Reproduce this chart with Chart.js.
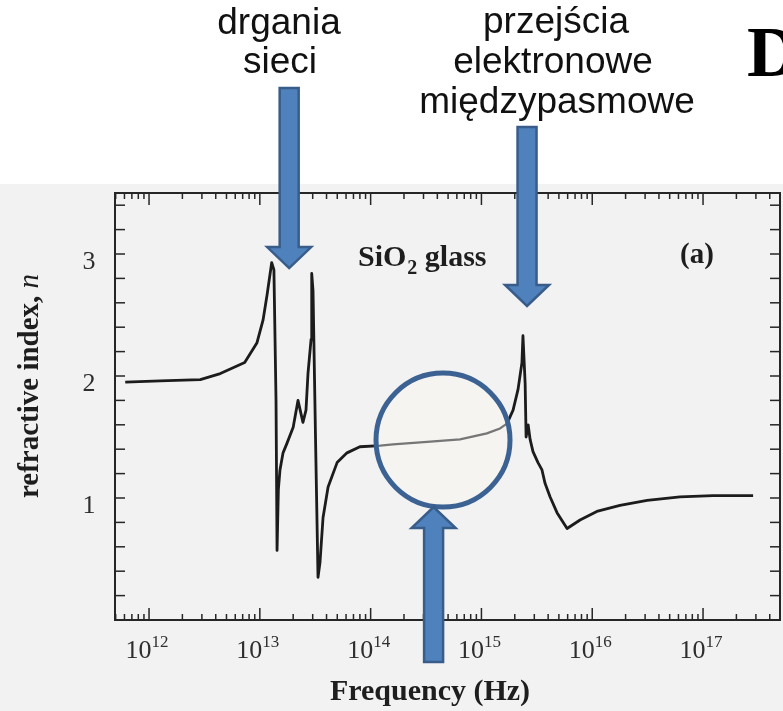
<!DOCTYPE html>
<html lang="pl">
<head>
<meta charset="UTF-8">
<title>Refractive index of SiO2 glass</title>
<script src="https://cdn.jsdelivr.net/npm/chart.js"></script>
<style>
  body { margin: 0; background: #fff; }
</style>
</head>
<body>
<canvas id="nChart" width="783" height="711"></canvas>
<script>
// refractive index of SiO2 glass vs frequency
const freqHz = [
  6.1e11, 1.26e12, 2.9e12, 4.4e12, 7.3e12, 9.4e12, 1.07e13, 1.16e13, 1.28e13, 1.34e13,
  1.40e13, 1.43e13, 1.47e13, 1.52e13, 1.62e13, 1.76e13, 2.0e13, 2.21e13, 2.45e13, 2.61e13,
  2.72e13, 2.90e13, 2.94e13, 3.02e13, 3.18e13, 3.35e13, 3.49e13, 3.72e13, 4.13e13, 4.98e13,
  6.12e13, 8.0e13, 1.22e14, 1.59e14, 3.23e14, 6.41e14, 1.12e15, 1.47e15, 1.70e15, 1.93e15,
  2.14e15, 2.32e15, 2.37e15, 2.48e15, 2.53e15, 2.64e15, 2.75e15, 2.92e15, 3.24e15, 3.52e15,
  3.75e15, 4.16e15, 4.81e15, 5.93e15, 7.76e15, 1.10e16, 1.78e16, 3.13e16, 6.19e16, 1.23e17,
  2.83e17
];
const refIndex = [
  1.95, 1.96, 1.97, 2.02, 2.11, 2.27, 2.46, 2.66, 2.93, 2.87,
  1.80, 0.57, 1.07, 1.23, 1.37, 1.45, 1.58, 1.80, 1.62, 1.72,
  2.02, 2.30, 2.84, 2.70, 1.50, 0.35, 0.47, 0.84, 1.09, 1.29,
  1.37, 1.42, 1.43, 1.44, 1.46, 1.48, 1.53, 1.57, 1.61, 1.72,
  1.89, 2.11, 2.33, 1.94, 1.50, 1.60, 1.48, 1.38, 1.29, 1.23,
  1.12, 1.01, 0.88, 0.75, 0.82, 0.89, 0.94, 0.98, 1.01, 1.02,
  1.02
];

// axes
const xMin = 4.93e11, xMax = 4.95e17;
const yMin = 0, yMax = 3.5;
const decadeLabels = [12, 13, 14, 15, 16, 17];
const yLabels = [1, 2, 3];

// arrows as [frequency, tail n, tip n]
const arrows = [
  [1.84e13, 4.36, 2.885],
  [2.58e15, 4.04, 2.574],
  [3.70e14, -0.344, 0.926]
];
// circled region of the curve
const lens = { f: 4.5e14, n: 1.475 };

const serif = '"Liberation Serif", "Times New Roman", serif';
const sans = '"Liberation Sans", Arial, sans-serif';

function line(ctx, x1, y1, x2, y2) {
  ctx.beginPath();
  ctx.moveTo(x1, y1);
  ctx.lineTo(x2, y2);
  ctx.stroke();
}

const paper = {
  id: 'paper',
  beforeDraw(chart) {
    const { ctx, width, height } = chart;
    ctx.save();
    ctx.fillStyle = '#ffffff';
    ctx.fillRect(0, 0, width, height);
    ctx.fillStyle = '#f2f2f2';
    ctx.fillRect(0, 184, width, height - 184);
    ctx.restore();
  }
};

const magnifier = {
  id: 'magnifier',
  afterDatasetsDraw(chart) {
    const { ctx } = chart;
    const cx = chart.scales.x.getPixelForValue(lens.f);
    const cy = chart.scales.y.getPixelForValue(lens.n);
    const r = 67;
    ctx.save();
    ctx.beginPath();
    ctx.arc(cx, cy, r, 0, Math.PI * 2);
    ctx.fillStyle = '#f5f4f0';
    ctx.fill();
    ctx.clip();
    // the same curve, fainter inside the circle
    const pts = chart.getDatasetMeta(0).data;
    ctx.beginPath();
    pts.forEach((p, i) => (i ? ctx.lineTo(p.x, p.y) : ctx.moveTo(p.x, p.y)));
    ctx.strokeStyle = '#767676';
    ctx.lineWidth = 2.2;
    ctx.stroke();
    ctx.restore();

    ctx.save();
    ctx.beginPath();
    ctx.arc(cx, cy, r, 0, Math.PI * 2);
    ctx.strokeStyle = '#3b6292';
    ctx.lineWidth = 5;
    ctx.stroke();
    ctx.restore();
  }
};

const frame = {
  id: 'frame',
  afterDraw(chart) {
    const { ctx, chartArea: a } = chart;
    const xs = chart.scales.x, ys = chart.scales.y;
    ctx.save();
    ctx.strokeStyle = '#262626';
    ctx.lineWidth = 2;
    ctx.strokeRect(a.left, a.top, a.right - a.left, a.bottom - a.top);

    // log ticks on bottom and top, pointing inwards
    ctx.lineWidth = 1.5;
    for (let d = 11; d <= 17; d++) {
      for (let k = 1; k <= 9; k++) {
        const v = k * Math.pow(10, d);
        if (v <= xMin || v >= xMax) continue;
        const px = xs.getPixelForValue(v);
        const len = k === 1 ? 12 : 6;
        line(ctx, px, a.bottom, px, a.bottom - len);
        line(ctx, px, a.top, px, a.top + len);
      }
    }
    // y ticks every 0.2 on both sides
    for (let i = 1; i * 0.2 < yMax; i++) {
      const py = ys.getPixelForValue(i * 0.2);
      line(ctx, a.left, py, a.left + 10, py);
      line(ctx, a.right, py, a.right - 10, py);
    }

    // tick labels
    ctx.fillStyle = '#2e2e2e';
    ctx.textBaseline = 'alphabetic';
    ctx.textAlign = 'left';
    decadeLabels.forEach(d => {
      const px = xs.getPixelForValue(Math.pow(10, d));
      ctx.font = '26px ' + serif;
      const wBase = ctx.measureText('10').width;
      ctx.font = '17px ' + serif;
      const wExp = ctx.measureText(String(d)).width;
      const x0 = px - (wBase + wExp) / 2 - 2;
      ctx.font = '26px ' + serif;
      ctx.fillText('10', x0, 658);
      ctx.font = '17px ' + serif;
      ctx.fillText(String(d), x0 + wBase, 647);
    });
    ctx.textAlign = 'center';
    ctx.font = '26px ' + serif;
    yLabels.forEach(v => {
      ctx.fillText(String(v), 89, ys.getPixelForValue(v) + 15);
    });

    // axis titles
    ctx.fillStyle = '#1e1e1e';
    ctx.font = 'bold 30px ' + serif;
    ctx.fillText('Frequency (Hz)', 430, 700);

    ctx.save();
    ctx.translate(38, 386);
    ctx.rotate(-Math.PI / 2);
    ctx.font = 'bold 29px ' + serif;
    const t1 = 'refractive index, ';
    const w1 = ctx.measureText(t1).width;
    ctx.font = 'italic 29px ' + serif;
    const w2 = ctx.measureText('n').width;
    ctx.textAlign = 'left';
    ctx.font = 'bold 29px ' + serif;
    ctx.fillText(t1, -(w1 + w2) / 2, 0);
    ctx.font = 'italic 29px ' + serif;
    ctx.fillText('n', -(w1 + w2) / 2 + w1, 0);
    ctx.restore();

    // in-plot labels
    ctx.textAlign = 'left';
    ctx.font = 'bold 30px ' + serif;
    ctx.fillText('SiO', 358, 266);
    let x = 358 + ctx.measureText('SiO').width;
    ctx.font = 'bold 20px ' + serif;
    ctx.fillText('2', x + 1, 274);
    x += ctx.measureText('2').width + 1;
    ctx.font = 'bold 30px ' + serif;
    ctx.fillText(' glass', x, 266);
    ctx.textAlign = 'center';
    ctx.font = 'bold 29px ' + serif;
    ctx.fillText('(a)', 697, 263);
    ctx.restore();
  }
};

const notes = {
  id: 'notes',
  afterDraw(chart) {
    const { ctx } = chart;
    const xs = chart.scales.x, ys = chart.scales.y;
    ctx.save();
    // block arrows
    arrows.forEach(([f, nTail, nTip]) => {
      const x = xs.getPixelForValue(f);
      const yTail = ys.getPixelForValue(nTail);
      const yTip = ys.getPixelForValue(nTip);
      const dir = yTip > yTail ? 1 : -1;
      const yBase = yTip - dir * 21;
      ctx.beginPath();
      ctx.moveTo(x - 9.5, yTail);
      ctx.lineTo(x - 9.5, yBase);
      ctx.lineTo(x - 22, yBase);
      ctx.lineTo(x, yTip);
      ctx.lineTo(x + 22, yBase);
      ctx.lineTo(x + 9.5, yBase);
      ctx.lineTo(x + 9.5, yTail);
      ctx.closePath();
      ctx.fillStyle = '#4f81bd';
      ctx.fill();
      ctx.strokeStyle = '#385d8a';
      ctx.lineWidth = 2.5;
      ctx.stroke();
    });

    // captions over the arrows
    ctx.fillStyle = '#111';
    ctx.textAlign = 'center';
    ctx.textBaseline = 'alphabetic';
    ctx.font = '37px ' + sans;
    ctx.fillText('drgania', 279, 34);
    ctx.fillText('sieci', 280, 73);
    ctx.fillText('przejścia', 556, 33);
    ctx.fillText('elektronowe', 553, 73);
    ctx.fillText('międzypasmowe', 557, 113);

    ctx.textAlign = 'left';
    ctx.fillStyle = '#000';
    ctx.font = 'bold 72px ' + serif;
    ctx.fillText('D', 747, 76);
    ctx.restore();
  }
};

const ctx = document.getElementById('nChart').getContext('2d');
const nChart = new Chart(ctx, {
  type: 'line',
  data: {
    datasets: [{
      data: freqHz.map((f, i) => ({ x: f, y: refIndex[i] })),
      borderColor: '#1c1c1c',
      borderWidth: 2.8,
      borderJoinStyle: 'round',
      pointRadius: 0,
      tension: 0,
      fill: false
    }]
  },
  options: {
    responsive: false,
    animation: false,
    layout: { padding: { left: 115, right: 3, top: 193, bottom: 91 } },
    plugins: { legend: { display: false }, tooltip: { enabled: false } },
    scales: {
      x: { type: 'logarithmic', min: xMin, max: xMax, display: false },
      y: { type: 'linear', min: yMin, max: yMax, display: false }
    }
  },
  plugins: [paper, magnifier, frame, notes]
});
</script>
</body>
</html>
